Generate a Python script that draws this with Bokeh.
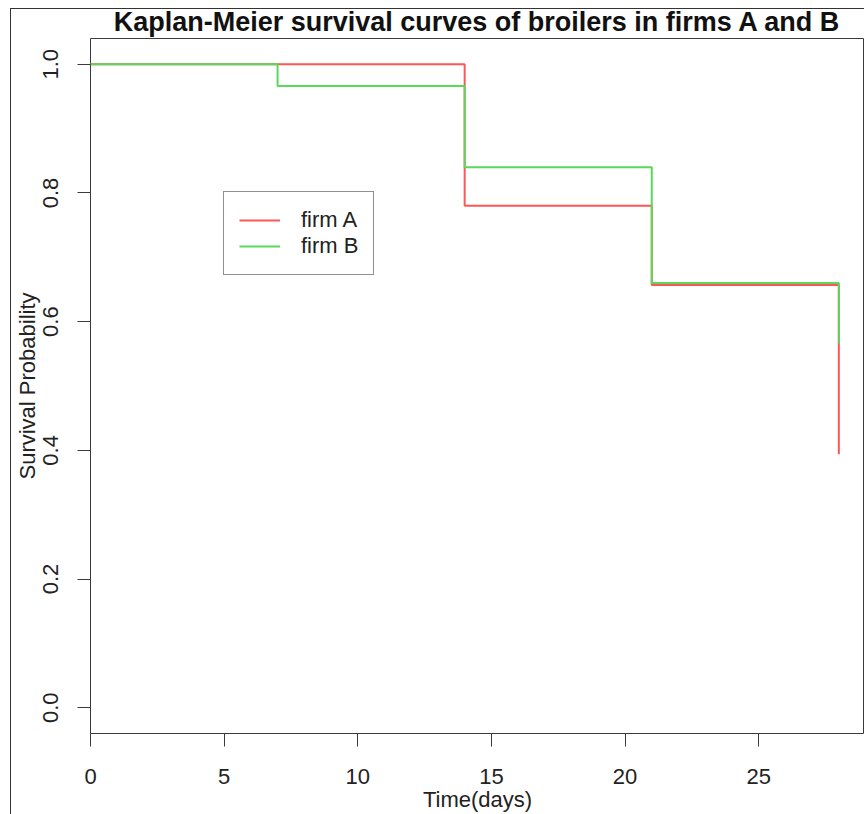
from bokeh.plotting import figure
from bokeh.models import FixedTicker, Range1d
from bokeh.embed import file_html
from bokeh.resources import INLINE

# ---- data ----
time_a = [0, 14, 21, 28]
surv_a = [1.0, 0.780, 0.657, 0.394]
time_b = [0, 7, 14, 21, 28]
surv_b = [1.0, 0.966, 0.840, 0.660, 0.566]
series_names = ["firm A", "firm B"]
series_colors = ["#ff5656", "#5ad85a"]
x_ticks = [0, 5, 10, 15, 20, 25]
y_ticks = [0.0, 0.2, 0.4, 0.6, 0.8, 1.0]
y_tick_labels = ["0.0", "0.2", "0.4", "0.6", "0.8", "1.0"]

FONT = "Liberation Sans"
INK = "#222222"
AX = "#3a3a3a"

p = figure(width=864, height=814, output_backend="svg", toolbar_location=None,
           x_range=Range1d(0, 28.96), y_range=Range1d(-0.04, 1.04),
           min_border_left=90, min_border_right=0, min_border_top=38, min_border_bottom=78,
           title="Kaplan-Meier survival curves of broilers in firms A and B")

p.title.text_font = FONT
p.title.text_font_size = "27px"
p.title.text_font_style = "bold"
p.title.text_color = "#111111"
p.title.align = "center"
p.title.standoff = 3

p.grid.visible = False
p.background_fill_color = "white"
p.border_fill_color = "white"
p.outline_line_color = AX
p.outline_line_width = 1

for ax in (p.xaxis[0], p.yaxis[0]):
    ax.axis_line_color = None
    ax.major_tick_line_color = AX
    ax.major_tick_out = 13
    ax.major_tick_in = 0
    ax.minor_tick_line_color = None
    ax.major_label_text_font = FONT
    ax.major_label_text_font_size = "22px"
    ax.major_label_text_color = INK
    ax.axis_label_text_font = FONT
    ax.axis_label_text_font_size = "22px"
    ax.axis_label_text_font_style = "normal"
    ax.axis_label_text_color = INK

p.xaxis.ticker = FixedTicker(ticks=x_ticks)
p.xaxis.axis_label = "Time(days)"
p.xaxis.major_label_standoff = 22
p.xaxis.axis_label_standoff = 0

p.yaxis.ticker = FixedTicker(ticks=y_ticks)
p.yaxis.major_label_overrides = {t: l for t, l in zip(y_ticks, y_tick_labels)}
p.yaxis.major_label_orientation = "vertical"
p.yaxis.axis_label = "Survival Probability"
p.yaxis.major_label_standoff = 19
p.yaxis.axis_label_standoff = 1

p.step(time_a, surv_a, mode="after", line_color=series_colors[0], line_width=2,
       legend_label=series_names[0])
p.step(time_b, surv_b, mode="after", line_color=series_colors[1], line_width=2,
       legend_label=series_names[1])

lg = p.legend[0]
lg.location = (133, 458)
lg.margin = 0
lg.padding = 15
lg.spacing = 0
lg.glyph_width = 41
lg.glyph_height = 20
lg.label_height = 20
lg.label_standoff = 21
lg.label_text_font = FONT
lg.label_text_font_size = "22px"
lg.label_text_color = INK
lg.border_line_color = "#222222"
lg.border_line_width = 1
lg.background_fill_color = "white"
lg.background_fill_alpha = 1.0

# outer frame of the original device window (left and top edges only)
p.stylesheets = [
    ":host { position: relative; }"
    " :host::after { content: ''; position: absolute; left: 10px; top: 8px; right: 0; bottom: 0;"
    " border-left: 1px solid #333; border-top: 1px solid #333; pointer-events: none; z-index: 100; }"
]

open("out.html", "w").write(file_html(p, INLINE))
